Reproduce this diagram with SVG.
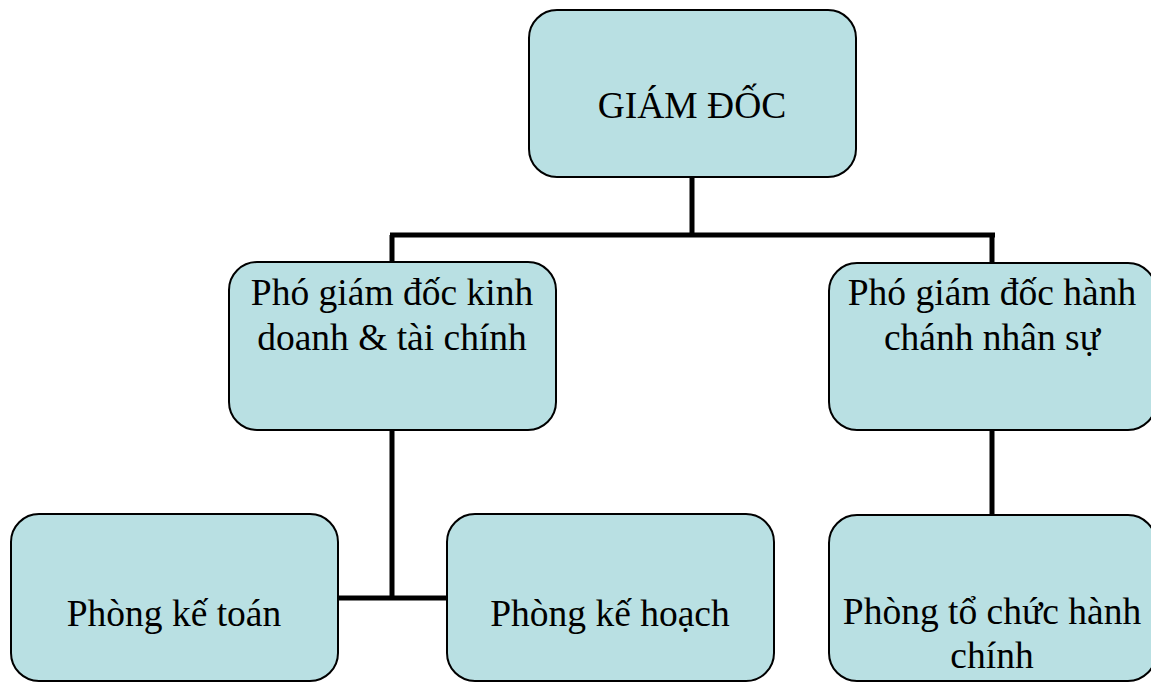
<svg xmlns="http://www.w3.org/2000/svg" width="1151" height="682" viewBox="0 0 1151 682">
<style>
.box{fill:#B9E0E3;stroke:#000;stroke-width:2}
.t{font-family:"Liberation Serif","Times New Roman",serif;font-size:37.5px;fill:#000;text-anchor:middle}
.c{stroke:#000;stroke-width:5;fill:none}
</style>
<rect width="1151" height="682" fill="#fff"/>
<g id="connectors">
<path class="c" d="M692 177V235M390 235H995M392 235V262M992 235V262"/>
<path class="c" d="M392 430V598M338 598H447"/>
<path class="c" d="M992 430V514"/>
</g>
<g id="giam-doc">
<rect class="box" x="529" y="10" width="327" height="167" rx="28"/>
<text class="t" x="692" y="118">GIÁM ĐỐC</text>
</g>
<g id="pgd-kinh-doanh">
<rect class="box" x="229" y="262" width="327" height="168" rx="28"/>
<text class="t" x="392" y="305">Phó giám đốc kinh</text>
<text class="t" x="392" y="350">doanh &amp; tài chính</text>
</g>
<g id="pgd-hanh-chanh">
<rect class="box" x="829" y="263" width="327" height="167" rx="28"/>
<text class="t" x="992" y="305">Phó giám đốc hành</text>
<text class="t" x="992" y="350">chánh nhân sự</text>
</g>
<g id="phong-ke-toan">
<rect class="box" x="11" y="514" width="327" height="167" rx="28"/>
<text class="t" x="174" y="626">Phòng kế toán</text>
</g>
<g id="phong-ke-hoach">
<rect class="box" x="447" y="514" width="327" height="167" rx="28"/>
<text class="t" x="610" y="626">Phòng kế hoạch</text>
</g>
<g id="phong-to-chuc">
<rect class="box" x="829" y="515" width="327" height="166" rx="28"/>
<text class="t" x="992" y="624">Phòng tổ chức hành</text>
<text class="t" x="992" y="668">chính</text>
</g>
</svg>
